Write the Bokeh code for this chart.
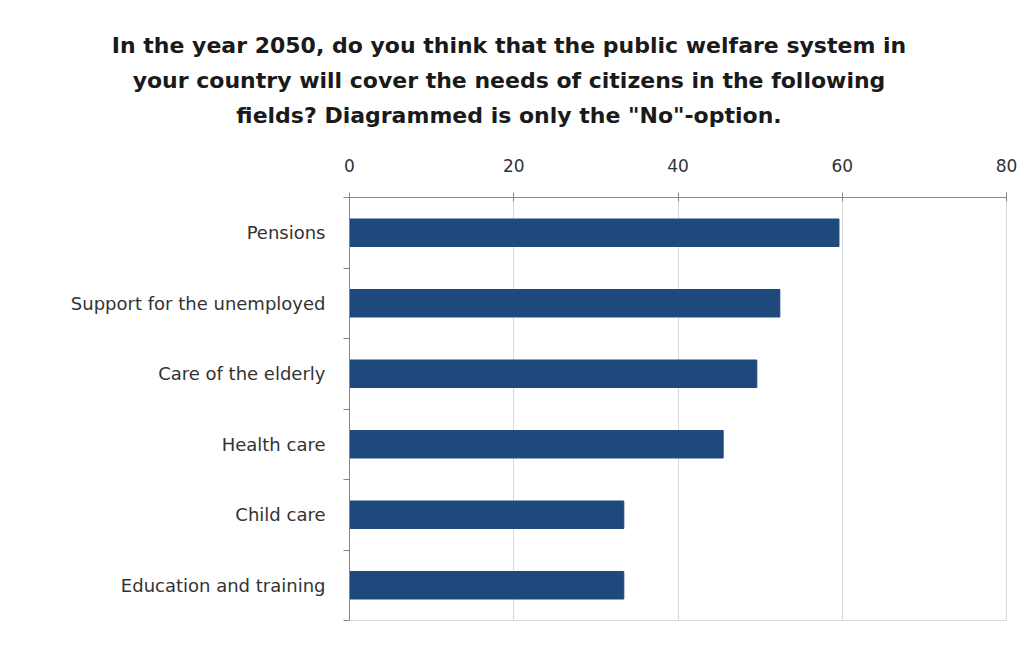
from bokeh.plotting import figure
from bokeh.models import Range1d, LinearAxis, FixedTicker, Div, ColumnDataSource
from bokeh.layouts import column
from bokeh.embed import file_html
from bokeh.resources import INLINE

categories = ["Pensions", "Support for the unemployed", "Care of the elderly",
              "Health care", "Child care", "Education and training"]
no_share = [59.6, 52.4, 49.6, 45.5, 33.4, 33.4]
x_ticks = [0, 20, 40, 60, 80]
title_lines = ["In the year 2050, do you think that the public welfare system in",
               "your country will cover the needs of citizens in the following",
               "fields? Diagrammed is only the \"No\"-option."]

FONT = "DejaVu Sans"
BAR = "#1F497D"
n = len(categories)
# category slot centres (first category at the top) and slot boundaries
slot = [n - i - 0.5 for i in range(n)]
bounds = list(range(n + 1))

W = 1024
title = Div(
    text="<div style='width:%dpx; box-sizing:border-box; padding:23px 16px 0 0; "
         "text-align:center; white-space:nowrap;'>" % W
         + "<br>".join(t.replace('"', "&quot;") for t in title_lines) + "</div>",
    width=W, height=128,
    styles={"font-family": FONT, "font-weight": "bold", "font-size": "22px",
            "line-height": "35px", "color": "#1a1a1a"},
)

p = figure(width=W, height=499,
           x_range=Range1d(0, 80), y_range=Range1d(0, n),
           x_axis_location="above", y_axis_location=None,
           output_backend="svg", toolbar_location=None,
           min_border_left=349, min_border_right=18, min_border_top=59, min_border_bottom=17,
           outline_line_color="#d9d9d9")

src = ColumnDataSource(dict(y=slot, v=no_share, cat=categories))
p.hbar(y="y", right="v", left=0, height=0.39, color=BAR, line_color=BAR, source=src)

xa = p.xaxis[0]
xa.ticker = FixedTicker(ticks=x_ticks)
xa.axis_line_color = "#868686"
xa.major_tick_line_color = "#868686"
xa.major_tick_out = 5
xa.major_tick_in = 4
xa.minor_tick_line_color = None
xa.major_label_standoff = 21
xa.major_label_text_font = FONT
xa.major_label_text_font_size = "17px"
xa.major_label_text_color = "#333333"

p.xgrid.grid_line_color = "#d9d9d9"
p.xgrid.ticker = FixedTicker(ticks=x_ticks)
p.ygrid.visible = False

cat_axis = LinearAxis(ticker=FixedTicker(ticks=slot, minor_ticks=bounds),
                      major_label_overrides={s: c for s, c in zip(slot, categories)},
                      axis_line_color="#868686",
                      major_tick_line_color=None, major_tick_out=0, major_tick_in=0,
                      minor_tick_line_color="#868686", minor_tick_out=6, minor_tick_in=0,
                      major_label_standoff=18,
                      major_label_text_font=FONT,
                      major_label_text_font_size="18px",
                      major_label_text_color="#333333")
p.add_layout(cat_axis, "left")

layout = column(title, p, spacing=0)
open("out.html", "w").write(file_html(layout, INLINE))
